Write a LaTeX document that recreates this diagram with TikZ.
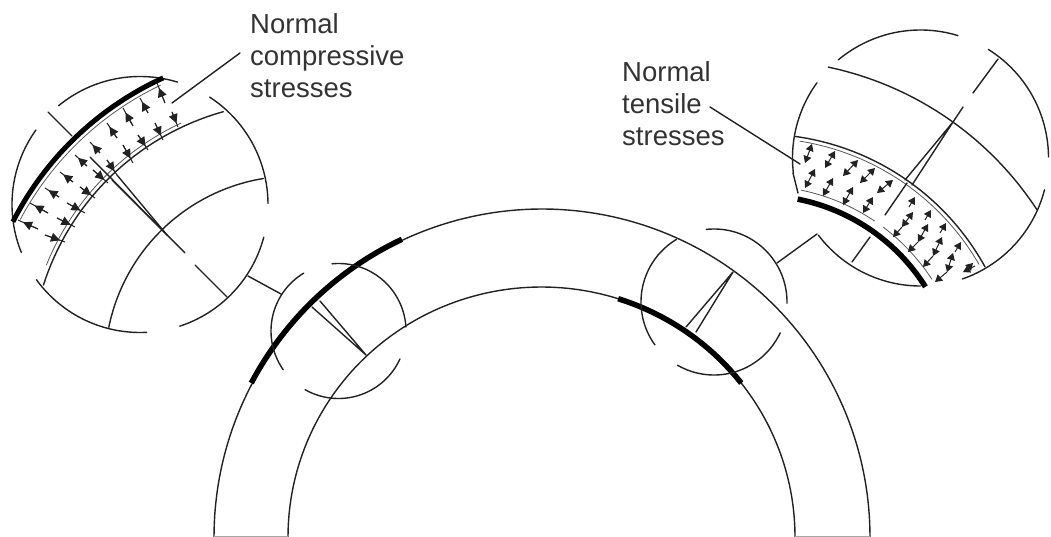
\documentclass[tikz,border=0pt]{standalone}
\usepackage{fontspec}
\setmainfont{Liberation Sans}
\usetikzlibrary{arrows.meta,calc}
\definecolor{ink}{HTML}{222222}
\definecolor{txt}{HTML}{333333}
\tikzset{
  ln/.style={draw=ink,line width=1.4pt,line cap=round,line join=round},
  hair/.style={draw=ink!75,line width=0.8pt},
  thick band/.style={draw=black,line width=5.5pt},
  shaft/.style={draw=ink,line width=1pt},
  head/.style={draw=ink,line width=1pt,-{Triangle[length=9pt,width=9pt]}},
  dhead/.style={draw=ink,line width=1pt,{Triangle[length=7pt,width=8pt]}-{Triangle[length=7pt,width=8pt]}},
  label/.style={anchor=north west,align=left,inner sep=0pt,text=txt,font=\fontsize{27.5}{32}\selectfont}
}
% circle arc: style, centre x, y, radius, from angle, to angle (angles as seen on the page)
\newcommand{\sarc}[6]{\draw[#1] plot[domain=#5:#6,samples=60] ({#2+#4*cos(\x)},{#3-#4*sin(\x)});}
\newcommand{\carc}[5]{\sarc{ln}{#1}{#2}{#3}{#4}{#5}}
% compressive arrow: edge point, tail point
\newcommand{\larr}[4]{\draw[shaft] (#1,#2) -- (#3,#4);\draw[head] (#3,#4) -- ($(#1,#2)!0.25!(#3,#4)$);}
% tensile pair
\newcommand{\tarr}[4]{\draw[dhead] (#1,#2) -- (#3,#4);}
\newcommand{\sarr}[4]{\draw[shaft,-{Triangle[length=7pt,width=8pt]}] (#1,#2) -- (#3,#4);}
\begin{document}
\begin{tikzpicture}[x=1pt,y=-1pt]
\useasboundingbox (0,0) rectangle (1051,537);
\fill[white] (0,0) rectangle (1051,537);

% main arch
\draw[ln] plot[domain=0:180,samples=140] ({542+328*cos(\x)},{537-328*sin(\x)});
\draw[ln] plot[domain=0:180,samples=140] ({541.5+253.5*cos(\x)},{537-250*sin(\x)});
\draw[draw=gray!70,line width=1pt] (214,536) -- (288,536) (795,536) -- (870,536);
\draw[thick band] plot[domain=152.1:115.2,samples=40] ({542+329*cos(\x)},{537-329*sin(\x)});
\draw[thick band] plot[domain=72.4:38,samples=40] ({541.5+253.5*cos(\x)},{537-250*sin(\x)});

% small circle, left
\carc{338.5}{331}{67.5}{121}{215}
\carc{338.5}{331}{67.5}{240.4}{335.5}
\carc{338.5}{331}{67.5}{3.4}{95.5}
\coordinate (wl) at (366,355);
\coordinate (wl1) at (312,307);
\coordinate (wl2) at (320,301);
\draw[ln] (wl1) -- (wl) -- (wl2);

% small circle, right
\carc{714}{302}{73}{96}{-1}
\carc{714}{302}{73}{-25}{-120}
\carc{714}{302}{73}{216}{121}
\coordinate (wr) at (733,272);
\coordinate (wr1) at (686,327);
\coordinate (wr2) at (696,332);
\draw[ln] (wr1) -- (wr) -- (wr2);

% connectors between the circles
\coordinate (cl1) at (248,276);
\coordinate (cl2) at (281,294);
\draw[ln] (cl1) -- (cl2);
\coordinate (cr1) at (777,263);
\coordinate (cr2) at (817,234);
\draw[ln] (cr1) -- (cr2);

% big circle, left
\carc{140}{204.5}{128}{129.5}{73}
\carc{140}{204.5}{128}{57}{0.5}
\carc{140}{204.5}{128}{-14.8}{-71.9}
\carc{140}{204.5}{128}{-87}{-144}
\carc{140}{204.5}{128}{202}{144.4}
\sarc{thick band,line width=5pt}{294}{365}{315.5}{153}{114.5}
\sarc{hair}{294}{365}{310}{152}{115.5}
\sarc{ln}{294}{365}{263}{162.3}{105.6}
\sarc{hair}{294}{365}{267}{158}{115}
\sarc{ln}{294}{365}{189}{168.5}{99.3}
\draw[ln] (48,112) -- (72,136);
\draw[ln] (90,157) -- (185,253);
\draw[ln] (195,265) -- (227,297);
\coordinate (wb) at (167,235);
\coordinate (wb1) at (112,180);
\coordinate (wb2) at (117,175);
\draw[ln] (wb1) -- (wb) -- (wb2);
% compressive arrows, row at the heavy line
\larr{157}{83}{165}{103}
\larr{140}{98}{148}{113}
\larr{123}{108}{133}{126}
\larr{107}{123}{117}{138}
\larr{90}{142}{100}{153}
\larr{75}{155}{87}{166}
\larr{60}{172}{73}{182}
\larr{45}{188}{59}{197}
\larr{30}{203}{48}{213}
\larr{18}{220}{38}{229}
% compressive arrows, row at the lower line
\larr{178}{127}{172}{112}
\larr{163}{140}{155}{123}
\larr{148}{150}{138}{135}
\larr{133}{163}{123}{145}
\larr{117}{175}{107}{160}
\larr{108}{183}{93}{170}
\larr{95}{198}{80}{187}
\larr{85}{213}{67}{203}
\larr{75}{227}{57}{218}
\larr{65}{242}{45}{235}

% big circle, right
\carc{920.5}{158}{128}{130}{73}
\carc{920.5}{158}{128}{58}{0.5}
\carc{920.5}{158}{128}{-14.4}{-70.9}
\carc{920.5}{158}{128}{-90}{-143}
\carc{920.5}{158}{128}{144}{186.7}
\coordinate (corner) at (798,193);
\draw[ln] (793,173) -- (corner);
\sarc{thick band,line width=5.5pt}{760}{391}{195.5}{78.9}{32.2}
\sarc{ln}{760}{391}{257}{82.1}{28.9}
\sarc{hair}{760}{391}{253}{81}{30}
\sarc{hair}{760}{391}{205}{78.5}{56}
\sarc{hair}{760}{391}{205}{53}{33}
\sarc{ln}{760}{391}{331}{78.1}{33.2}
\draw[ln] (998,59) -- (973,93);
\draw[ln] (963,107) -- (953,122);
\coordinate (we) at (953,122);
\coordinate (we1) at (905,180);
\coordinate (we2) at (912,185);
\draw[ln] (we1) -- (we) -- (we2);
\draw[ln] (907,183) -- (885,215);
\draw[ln] (870,237) -- (852,262);
% tensile arrows, left part of the band
\tarr{812}{144}{805}{163}
\tarr{835}{151}{825}{168}
\tarr{858}{160}{843}{176}
\tarr{875}{168}{860}{183}
\tarr{893}{180}{877}{193}
\tarr{815}{169}{805}{188}
\tarr{833}{178}{823}{196}
\tarr{853}{187}{843}{205}
\tarr{873}{197}{863}{213}
% tensile arrows, right part of the band
\sarr{909}{207}{915}{197}
\sarr{925}{220}{931}{210}
\sarr{940}{233}{946}{223}
\sarr{955}{252}{961}{242}
\sarr{964}{272}{973}{263}
\sarr{975}{266}{963}{272}
\tarr{913}{212}{902}{227}
\tarr{928}{224}{918}{242}
\tarr{942}{237}{933}{256}
\tarr{953}{253}{947}{272}
\sarr{902}{227}{893}{237}
\sarr{918}{242}{908}{252}
\sarr{933}{256}{923}{267}
\sarr{947}{272}{935}{282}

% labels and leaders
\node[label] (lc) at (250,13) {Normal\\compressive\\stresses};
\node[label] (lt) at (622,61) {Normal\\tensile\\stresses};
\coordinate (lca) at (240,53);
\coordinate (lcb) at (172,103);
\draw[ln] (lca) -- (lcb);
\coordinate (lta) at (710,107);
\coordinate (ltb) at (800,164);
\draw[ln] (lta) -- (ltb);
\end{tikzpicture}
\end{document}
